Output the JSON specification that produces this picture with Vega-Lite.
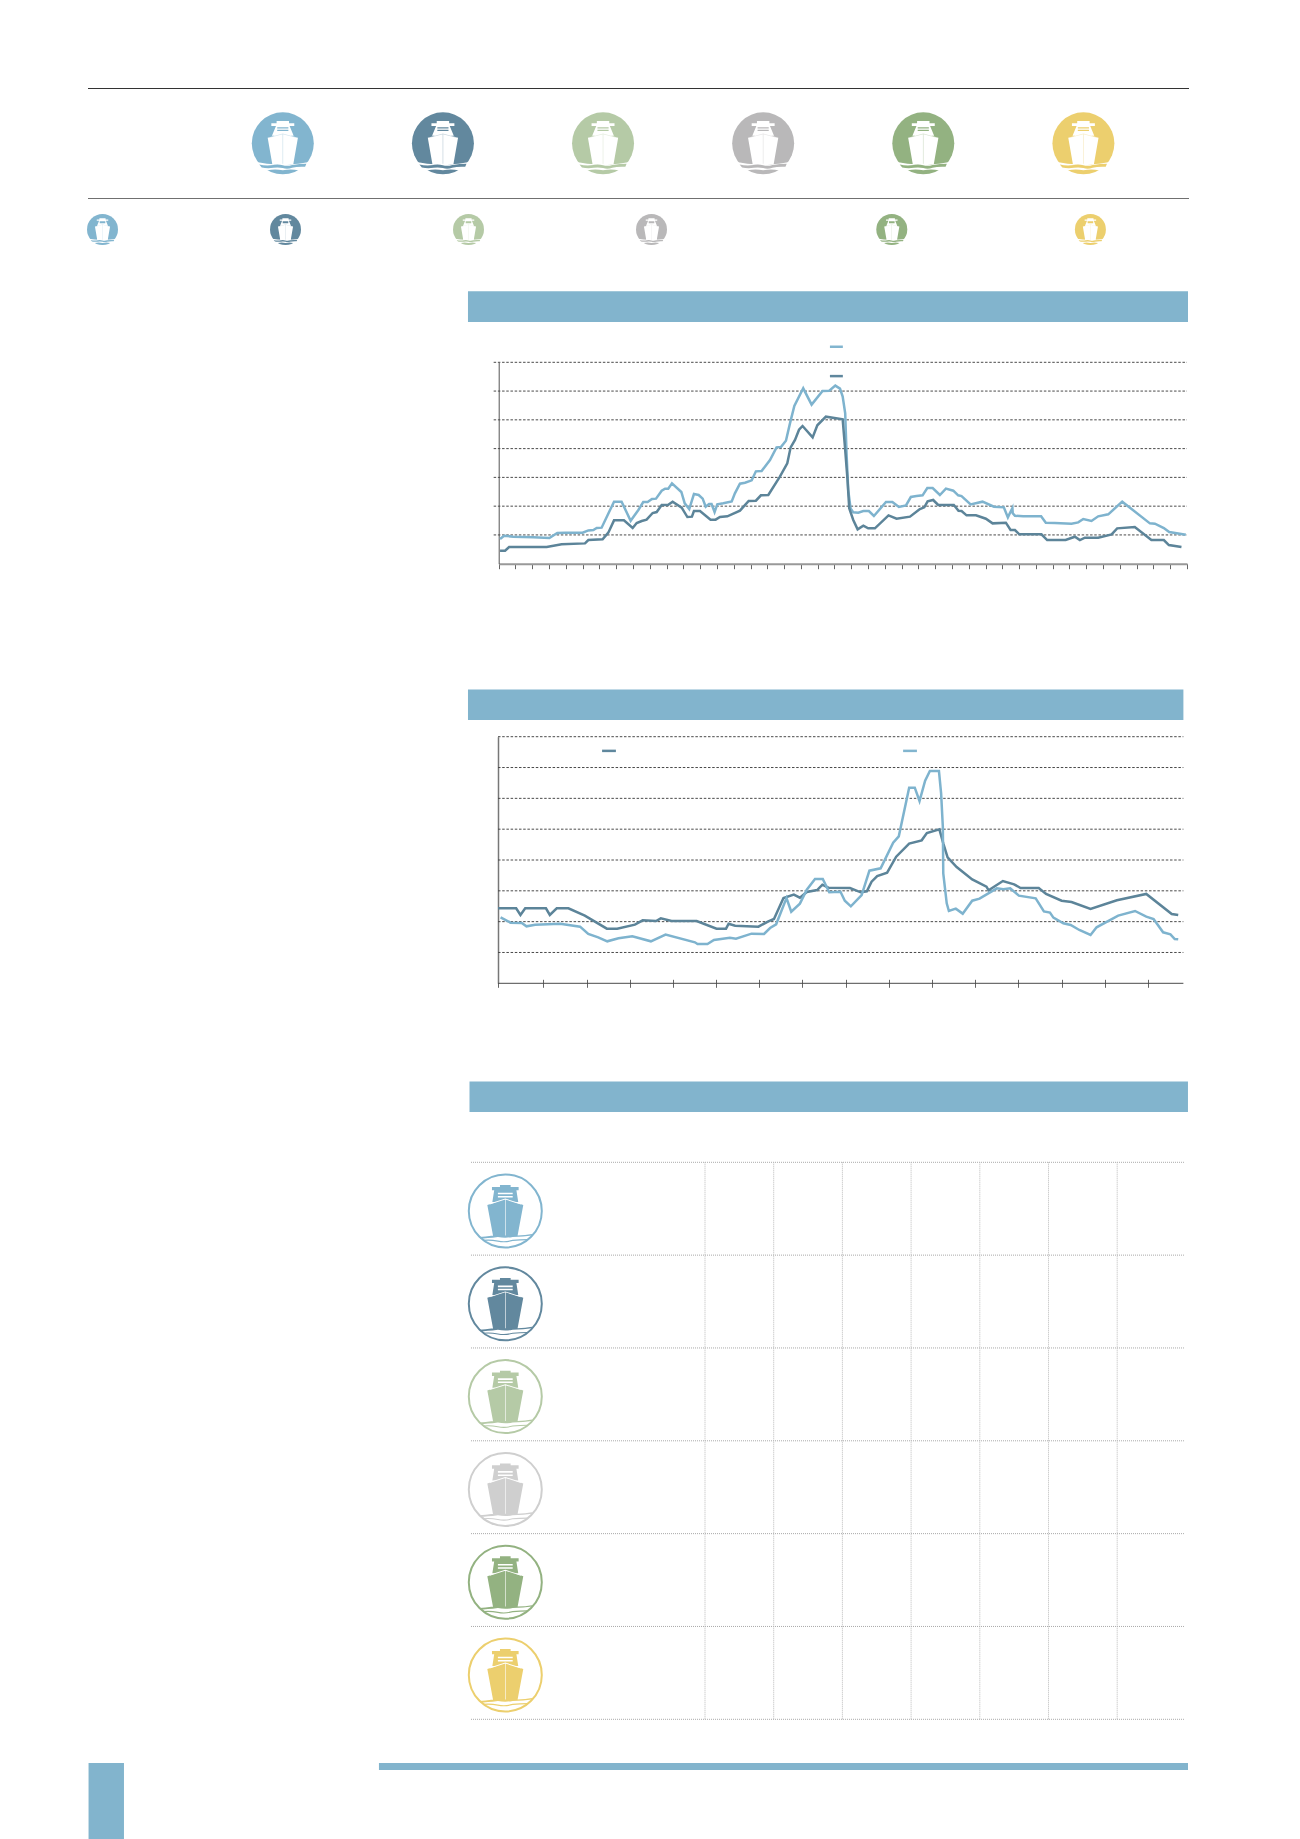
{
"$schema":"https://vega.github.io/schema/vega-lite/v6.json",
"width":1300,"height":1839,"padding":0,
"autosize":{"type":"fit","contains":"padding"},
"background":"white",
"config":{"view":{"stroke":null}},
"data":{"values":[{}]},
"datasets":{
"vessels":[{"vessel":"Vessel 1","idx":0},{"vessel":"Vessel 2","idx":1},{"vessel":"Vessel 3","idx":2},{"vessel":"Vessel 4","idx":3},{"vessel":"Vessel 5","idx":4},{"vessel":"Vessel 6","idx":5}],
"tableRows":[{"line":0},{"line":1},{"line":2},{"line":3},{"line":4},{"line":5},{"line":6}],
"tableCols":[{"col":0},{"col":1},{"col":2},{"col":3},{"col":4},{"col":5},{"col":6}],
"grid1":[{"v":50},{"v":100},{"v":150},{"v":200},{"v":250},{"v":300},{"v":350}],
"grid2":[{"v":50},{"v":100},{"v":150},{"v":200},{"v":250},{"v":300},{"v":350},{"v":400}],
"chart1":[
{"s":"Series A","t":0.08,"v":42.9},{"s":"Series A","t":0.32,"v":48.7},{"s":"Series A","t":0.87,"v":46.9},{"s":"Series A","t":1.47,"v":46.4},{"s":"Series A","t":2.06,"v":45.8},{"s":"Series A","t":3.02,"v":44.6},{"s":"Series A","t":3.49,"v":53.3},{"s":"Series A","t":3.97,"v":53.9},{"s":"Series A","t":5.0,"v":53.9},{"s":"Series A","t":5.34,"v":57.9},{"s":"Series A","t":5.64,"v":58.5},{"s":"Series A","t":5.84,"v":62},{"s":"Series A","t":6.13,"v":62.6},{"s":"Series A","t":6.87,"v":107.8},{"s":"Series A","t":7.32,"v":107.8},{"s":"Series A","t":7.86,"v":74.7},{"s":"Series A","t":8.32,"v":93.3},{"s":"Series A","t":8.61,"v":107.2},{"s":"Series A","t":8.87,"v":107.2},{"s":"Series A","t":9.13,"v":112.4},{"s":"Series A","t":9.37,"v":113},{"s":"Series A","t":9.71,"v":126.9},{"s":"Series A","t":9.91,"v":130.4},{"s":"Series A","t":10.1,"v":130.4},{"s":"Series A","t":10.32,"v":139.6},{"s":"Series A","t":10.88,"v":124.6},{"s":"Series A","t":11.08,"v":104.9},{"s":"Series A","t":11.35,"v":95},{"s":"Series A","t":11.63,"v":121.1},{"s":"Series A","t":11.91,"v":119.4},{"s":"Series A","t":12.15,"v":113},{"s":"Series A","t":12.33,"v":99.1},{"s":"Series A","t":12.53,"v":103.7},{"s":"Series A","t":12.68,"v":103.7},{"s":"Series A","t":12.86,"v":89.8},{"s":"Series A","t":13.02,"v":103.1},{"s":"Series A","t":13.38,"v":104.9},{"s":"Series A","t":13.88,"v":108.3},{"s":"Series A","t":14.07,"v":122.3},{"s":"Series A","t":14.37,"v":139},{"s":"Series A","t":14.67,"v":140.8},{"s":"Series A","t":15.07,"v":144.9},{"s":"Series A","t":15.32,"v":160.5},{"s":"Series A","t":15.66,"v":161.1},{"s":"Series A","t":16.16,"v":180.2},{"s":"Series A","t":16.55,"v":202.2},{"s":"Series A","t":16.81,"v":202.8},{"s":"Series A","t":17.11,"v":213.8},{"s":"Series A","t":17.35,"v":243.9},{"s":"Series A","t":17.61,"v":274.1},{"s":"Series A","t":18.14,"v":304.8},{"s":"Series A","t":18.64,"v":276.4},{"s":"Series A","t":19.29,"v":300.1},{"s":"Series A","t":19.69,"v":300.7},{"s":"Series A","t":20.05,"v":309.4},{"s":"Series A","t":20.33,"v":304.2},{"s":"Series A","t":20.49,"v":290.3},{"s":"Series A","t":20.64,"v":261.3},{"s":"Series A","t":20.72,"v":191.8},{"s":"Series A","t":20.82,"v":128},{"s":"Series A","t":20.96,"v":96.2},{"s":"Series A","t":21.12,"v":89.2},{"s":"Series A","t":21.42,"v":88.6},{"s":"Series A","t":21.72,"v":91.5},{"s":"Series A","t":22.05,"v":91.5},{"s":"Series A","t":22.35,"v":82.9},{"s":"Series A","t":23.07,"v":107.2},{"s":"Series A","t":23.45,"v":107.2},{"s":"Series A","t":23.84,"v":98.5},{"s":"Series A","t":24.26,"v":101.4},{"s":"Series A","t":24.55,"v":115.9},{"s":"Series A","t":24.89,"v":117.6},{"s":"Series A","t":25.25,"v":118.8},{"s":"Series A","t":25.53,"v":131.5},{"s":"Series A","t":25.85,"v":131.5},{"s":"Series A","t":26.28,"v":119.4},{"s":"Series A","t":26.64,"v":130.4},{"s":"Series A","t":27.08,"v":126.9},{"s":"Series A","t":27.37,"v":118.8},{"s":"Series A","t":27.57,"v":117.6},{"s":"Series A","t":28.11,"v":103.1},{"s":"Series A","t":28.82,"v":107.8},{"s":"Series A","t":29.5,"v":99.1},{"s":"Series A","t":30.09,"v":97.9},{"s":"Series A","t":30.33,"v":80.5},{"s":"Series A","t":30.6,"v":96.8},{"s":"Series A","t":30.62,"v":87.5},{"s":"Series A","t":30.75,"v":83.4},{"s":"Series A","t":31.24,"v":82.3},{"s":"Series A","t":32.31,"v":82.3},{"s":"Series A","t":32.59,"v":71.3},{"s":"Series A","t":33.13,"v":70.7},{"s":"Series A","t":34.12,"v":69.5},{"s":"Series A","t":34.52,"v":71.8},{"s":"Series A","t":34.82,"v":77.6},{"s":"Series A","t":35.31,"v":74.2},{"s":"Series A","t":35.71,"v":82.3},{"s":"Series A","t":36.31,"v":85.8},{"s":"Series A","t":37.14,"v":107.8},{"s":"Series A","t":38.79,"v":70.1},{"s":"Series A","t":39.09,"v":69.5},{"s":"Series A","t":39.62,"v":62},{"s":"Series A","t":39.94,"v":55},{"s":"Series A","t":40.57,"v":52.1},{"s":"Series A","t":40.93,"v":50.4},
{"s":"Series B","t":0.08,"v":22.6},{"s":"Series B","t":0.38,"v":22.6},{"s":"Series B","t":0.62,"v":29},{"s":"Series B","t":2.86,"v":29},{"s":"Series B","t":3.75,"v":33.6},{"s":"Series B","t":5.14,"v":35.3},{"s":"Series B","t":5.34,"v":41.1},{"s":"Series B","t":6.19,"v":42.3},{"s":"Series B","t":6.53,"v":53.9},{"s":"Series B","t":6.87,"v":75.3},{"s":"Series B","t":7.46,"v":75.3},{"s":"Series B","t":7.98,"v":62},{"s":"Series B","t":8.22,"v":70.7},{"s":"Series B","t":8.52,"v":74.2},{"s":"Series B","t":8.81,"v":76.5},{"s":"Series B","t":9.17,"v":88.1},{"s":"Series B","t":9.41,"v":89.8},{"s":"Series B","t":9.71,"v":102},{"s":"Series B","t":10.1,"v":102.6},{"s":"Series B","t":10.36,"v":107.8},{"s":"Series B","t":10.9,"v":97.3},{"s":"Series B","t":11.24,"v":81.1},{"s":"Series B","t":11.51,"v":81.7},{"s":"Series B","t":11.63,"v":91.5},{"s":"Series B","t":11.99,"v":91.5},{"s":"Series B","t":12.62,"v":76.5},{"s":"Series B","t":12.92,"v":76.5},{"s":"Series B","t":13.18,"v":81.1},{"s":"Series B","t":13.62,"v":82.3},{"s":"Series B","t":14.37,"v":92.1},{"s":"Series B","t":14.89,"v":108.9},{"s":"Series B","t":15.32,"v":109.5},{"s":"Series B","t":15.62,"v":118.8},{"s":"Series B","t":16.06,"v":119.4},{"s":"Series B","t":16.75,"v":151.2},{"s":"Series B","t":17.19,"v":174.4},{"s":"Series B","t":17.39,"v":202.2},{"s":"Series B","t":17.65,"v":215},{"s":"Series B","t":17.89,"v":232.9},{"s":"Series B","t":18.1,"v":239.3},{"s":"Series B","t":18.7,"v":219.6},{"s":"Series B","t":18.98,"v":240.5},{"s":"Series B","t":19.49,"v":255.5},{"s":"Series B","t":20.49,"v":250.9},{"s":"Series B","t":20.64,"v":197.6},{"s":"Series B","t":20.78,"v":145.4},{"s":"Series B","t":20.88,"v":96.2},{"s":"Series B","t":21.12,"v":75.9},{"s":"Series B","t":21.38,"v":59.7},{"s":"Series B","t":21.72,"v":66.1},{"s":"Series B","t":22.01,"v":61.4},{"s":"Series B","t":22.41,"v":61.4},{"s":"Series B","t":23.22,"v":84},{"s":"Series B","t":23.7,"v":78.2},{"s":"Series B","t":24.5,"v":81.7},{"s":"Series B","t":25.09,"v":95},{"s":"Series B","t":25.35,"v":97.9},{"s":"Series B","t":25.55,"v":108.3},{"s":"Series B","t":25.88,"v":110.7},{"s":"Series B","t":26.18,"v":102},{"s":"Series B","t":27.11,"v":102},{"s":"Series B","t":27.39,"v":92.1},{"s":"Series B","t":27.57,"v":91.5},{"s":"Series B","t":27.87,"v":84},{"s":"Series B","t":28.43,"v":84},{"s":"Series B","t":29.02,"v":78.2},{"s":"Series B","t":29.42,"v":70.1},{"s":"Series B","t":30.21,"v":71.3},{"s":"Series B","t":30.49,"v":58.5},{"s":"Series B","t":30.75,"v":58.5},{"s":"Series B","t":31.01,"v":51},{"s":"Series B","t":32.33,"v":51},{"s":"Series B","t":32.67,"v":41.1},{"s":"Series B","t":33.77,"v":41.1},{"s":"Series B","t":34.32,"v":46.9},{"s":"Series B","t":34.62,"v":41.1},{"s":"Series B","t":34.92,"v":45.2},{"s":"Series B","t":35.71,"v":45.2},{"s":"Series B","t":36.51,"v":51},{"s":"Series B","t":36.84,"v":61.4},{"s":"Series B","t":37.89,"v":63.7},{"s":"Series B","t":38.88,"v":41.1},{"s":"Series B","t":39.62,"v":41.1},{"s":"Series B","t":39.92,"v":32.4},{"s":"Series B","t":40.67,"v":29}
],
"chart2":[
{"s":"Series B","t":0,"v":121.6},{"s":"Series B","t":0.42,"v":121.6},{"s":"Series B","t":0.52,"v":110.8},{"s":"Series B","t":0.63,"v":121.6},{"s":"Series B","t":1.11,"v":121.6},{"s":"Series B","t":1.2,"v":110.8},{"s":"Series B","t":1.36,"v":121.6},{"s":"Series B","t":1.63,"v":121.6},{"s":"Series B","t":2.01,"v":109.7},{"s":"Series B","t":2.52,"v":88.6},{"s":"Series B","t":2.76,"v":88.6},{"s":"Series B","t":3.17,"v":95.1},{"s":"Series B","t":3.35,"v":102.2},{"s":"Series B","t":3.66,"v":101.1},{"s":"Series B","t":3.77,"v":105.4},{"s":"Series B","t":4.02,"v":101.1},{"s":"Series B","t":4.6,"v":101.1},{"s":"Series B","t":5.06,"v":88.6},{"s":"Series B","t":5.28,"v":88.6},{"s":"Series B","t":5.34,"v":96.7},{"s":"Series B","t":5.49,"v":93.5},{"s":"Series B","t":6.03,"v":91.9},{"s":"Series B","t":6.26,"v":100.5},{"s":"Series B","t":6.39,"v":104.3},{"s":"Series B","t":6.61,"v":138.4},{"s":"Series B","t":6.85,"v":143.8},{"s":"Series B","t":6.99,"v":138.9},{"s":"Series B","t":7.15,"v":148.1},{"s":"Series B","t":7.39,"v":151.3},{"s":"Series B","t":7.51,"v":160},{"s":"Series B","t":7.65,"v":155.1},{"s":"Series B","t":8.15,"v":154.6},{"s":"Series B","t":8.4,"v":147.6},{"s":"Series B","t":8.54,"v":149.2},{"s":"Series B","t":8.65,"v":164.9},{"s":"Series B","t":8.78,"v":174},{"s":"Series B","t":9.01,"v":179.4},{"s":"Series B","t":9.22,"v":205.4},{"s":"Series B","t":9.52,"v":226.5},{"s":"Series B","t":9.81,"v":231.9},{"s":"Series B","t":9.93,"v":243.8},{"s":"Series B","t":10.22,"v":249.7},{"s":"Series B","t":10.31,"v":227},{"s":"Series B","t":10.41,"v":204.3},{"s":"Series B","t":10.62,"v":188.6},{"s":"Series B","t":10.98,"v":168.6},{"s":"Series B","t":11.31,"v":156.7},{"s":"Series B","t":11.36,"v":150.8},{"s":"Series B","t":11.69,"v":165.9},{"s":"Series B","t":11.95,"v":160.5},{"s":"Series B","t":12.1,"v":154.6},{"s":"Series B","t":12.52,"v":154.6},{"s":"Series B","t":12.69,"v":144.9},{"s":"Series B","t":13.05,"v":134},{"s":"Series B","t":13.28,"v":131.9},{"s":"Series B","t":13.72,"v":120.5},{"s":"Series B","t":14.33,"v":134.6},{"s":"Series B","t":15.01,"v":144.9},{"s":"Series B","t":15.6,"v":112.4},{"s":"Series B","t":15.75,"v":110.8},
{"s":"Series A","t":0.06,"v":107},{"s":"Series A","t":0.29,"v":98.4},{"s":"Series A","t":0.55,"v":97.8},{"s":"Series A","t":0.66,"v":92.4},{"s":"Series A","t":0.86,"v":95.1},{"s":"Series A","t":1.44,"v":96.7},{"s":"Series A","t":1.9,"v":91.9},{"s":"Series A","t":2.09,"v":80},{"s":"Series A","t":2.32,"v":74.6},{"s":"Series A","t":2.53,"v":68.1},{"s":"Series A","t":2.79,"v":73},{"s":"Series A","t":3.11,"v":76.2},{"s":"Series A","t":3.54,"v":68.1},{"s":"Series A","t":3.88,"v":78.9},{"s":"Series A","t":4.56,"v":66.5},{"s":"Series A","t":4.62,"v":63.8},{"s":"Series A","t":4.85,"v":63.8},{"s":"Series A","t":5.0,"v":70.3},{"s":"Series A","t":5.37,"v":74},{"s":"Series A","t":5.51,"v":72.4},{"s":"Series A","t":5.87,"v":80.5},{"s":"Series A","t":6.16,"v":80},{"s":"Series A","t":6.3,"v":89.7},{"s":"Series A","t":6.44,"v":95.7},{"s":"Series A","t":6.68,"v":138.4},{"s":"Series A","t":6.79,"v":116.2},{"s":"Series A","t":6.99,"v":129.2},{"s":"Series A","t":7.15,"v":151.9},{"s":"Series A","t":7.34,"v":169.2},{"s":"Series A","t":7.52,"v":169.2},{"s":"Series A","t":7.67,"v":147.6},{"s":"Series A","t":7.93,"v":148.6},{"s":"Series A","t":8.03,"v":134},{"s":"Series A","t":8.17,"v":124.9},{"s":"Series A","t":8.42,"v":143.2},{"s":"Series A","t":8.6,"v":182.7},{"s":"Series A","t":8.86,"v":186.5},{"s":"Series A","t":9.15,"v":228.1},{"s":"Series A","t":9.28,"v":238.4},{"s":"Series A","t":9.52,"v":317.3},{"s":"Series A","t":9.65,"v":317.3},{"s":"Series A","t":9.76,"v":295.7},{"s":"Series A","t":9.89,"v":328.6},{"s":"Series A","t":10.0,"v":344.3},{"s":"Series A","t":10.21,"v":344.3},{"s":"Series A","t":10.26,"v":308.1},{"s":"Series A","t":10.3,"v":254},{"s":"Series A","t":10.31,"v":178.4},{"s":"Series A","t":10.39,"v":129.7},{"s":"Series A","t":10.44,"v":117.3},{"s":"Series A","t":10.6,"v":121.1},{"s":"Series A","t":10.76,"v":113},{"s":"Series A","t":10.98,"v":134},{"s":"Series A","t":11.15,"v":137.3},{"s":"Series A","t":11.55,"v":154},{"s":"Series A","t":11.7,"v":152.4},{"s":"Series A","t":11.86,"v":154},{"s":"Series A","t":12.06,"v":142.2},{"s":"Series A","t":12.45,"v":137.8},{"s":"Series A","t":12.64,"v":116.7},{"s":"Series A","t":12.78,"v":114.6},{"s":"Series A","t":12.86,"v":106.5},{"s":"Series A","t":13.09,"v":97.3},{"s":"Series A","t":13.26,"v":94.6},{"s":"Series A","t":13.46,"v":86.5},{"s":"Series A","t":13.72,"v":78.4},{"s":"Series A","t":13.86,"v":90.8},{"s":"Series A","t":14.36,"v":109.7},{"s":"Series A","t":14.75,"v":117.3},{"s":"Series A","t":15.01,"v":108.1},{"s":"Series A","t":15.18,"v":104.3},{"s":"Series A","t":15.4,"v":82.7},{"s":"Series A","t":15.57,"v":79.5},{"s":"Series A","t":15.67,"v":71.9},{"s":"Series A","t":15.75,"v":71.3}
]
},
"resolve":{"scale":{"x":"independent","y":"independent","color":"independent"}},
"layer":[
{"data":{"name":"grid1"},"mark":{"type":"rule","color":"#4a4a4a","strokeWidth":1,"strokeDash":[2.5,1.7]},"encoding":{"x":{"datum":-0.3,"type":"quantitative","scale":{"domain":[0,41],"range":[498.7,1187],"zero":false,"nice":false},"axis":{"orient":"bottom","offset":-1275.3,"labels":false,"title":null,"grid":false,"values":[0,1,2,3,4,5,6,7,8,9,10,11,12,13,14,15,16,17,18,19,20,21,22,23,24,25,26,27,28,29,30,31,32,33,34,35,36,37,38,39,40,41],"domainColor":"#999999","domainWidth":2,"tickColor":"#666666","tickSize":5,"tickWidth":1}},"x2":{"datum":41},"y":{"field":"v","type":"quantitative","scale":{"domain":[0,350],"range":[563.7,362.3],"zero":false,"nice":false},"axis":{"orient":"left","offset":-498.7,"labels":false,"title":null,"grid":false,"ticks":false,"values":[0,350],"domainColor":"#555555","domainWidth":1}}}},
{"data":{"name":"grid2"},"mark":{"type":"rule","color":"#4a4a4a","strokeWidth":1,"strokeDash":[2.5,1.7]},"encoding":{"x":{"datum":0,"type":"quantitative","scale":{"domain":[0,15.87],"range":[498,1183.4],"zero":false,"nice":false},"axis":{"orient":"bottom","offset":-859.7,"labels":false,"title":null,"grid":false,"domain":false,"values":[0,1.05,2.05,3.05,4.05,5.05,6.05,7.05,8.05,9.05,10.05,11.05,12.05,13.05,14.05,15.05],"tickColor":"#666666","tickSize":8,"tickWidth":1}},"x2":{"datum":15.87},"y":{"field":"v","type":"quantitative","scale":{"domain":[0,400],"range":[983.3,736.7],"zero":false,"nice":false},"axis":{"orient":"left","offset":-498,"labels":false,"title":null,"grid":false,"ticks":false,"values":[0,400],"domainColor":"#777777","domainWidth":1.5}}}},
{"layer":[
{"mark":{"type":"rule","color":"#333333","strokeWidth":1},"encoding":{"x":{"datum":-1.22,"type":"quantitative","axis":null,"scale":{"domain":[-1.22,5.65],"range":[88,1189],"zero":false,"nice":false}},"x2":{"datum":5.65},"y":{"datum":0,"type":"quantitative","axis":null,"scale":{"domain":[0,1],"range":[88.5,198.5],"zero":false,"nice":false}}}},
{"mark":{"type":"rule","color":"#707070","strokeWidth":1},"encoding":{"x":{"datum":-1.22,"type":"quantitative","axis":null},"x2":{"datum":5.65},"y":{"datum":1,"type":"quantitative","axis":null}}}
]},
{"data":{"name":"vessels"},
"encoding":{"x":{"field":"idx","type":"quantitative","axis":null,"scale":{"domain":[0,5],"range":[282.8,1083.4],"zero":false,"nice":false}},"y":{"datum":0.5,"type":"quantitative","axis":null,"scale":{"domain":[0,1],"range":[88.3,198.3],"zero":false,"nice":false}},"color":{"field":"vessel","type":"nominal","legend":null,"scale":{"domain":["Vessel 1","Vessel 2","Vessel 3","Vessel 4","Vessel 5","Vessel 6"],"range":["#82B5CF","#62889E","#B5CAA6","#B9B8B9","#93B281","#ECCF6E"]}}},
"layer":[
{"mark":{"type":"point","shape":"circle","filled":true,"opacity":1,"size":3844,"strokeWidth":0}},
{"mark":{"type":"point","shape":"M-0.488,-0.183 L0,-0.32 L0.488,-0.183 L0.34,0.667 L-0.34,0.667Z M-0.35,-0.24 L-0.22,-0.56 L-0.37,-0.56 L-0.37,-0.645 L-0.2,-0.645 L-0.2,-0.72 L0.2,-0.72 L0.2,-0.645 L0.37,-0.645 L0.37,-0.56 L0.22,-0.56 L0.35,-0.24Z M-1.05,0.6 L-0.75,0.62 Q-0.4,0.7 0,0.66 Q0.4,0.7 0.75,0.62 L1.05,0.6 L1.05,0.9 L0.5,0.87 Q0.25,0.82 0,0.87 Q-0.25,0.82 -0.5,0.87 L-1.05,0.9Z","filled":true,"opacity":1,"size":3844,"strokeWidth":0,"color":"white"},"encoding":{"color":{"value":"white"}}},
{"mark":{"type":"point","shape":"M-0.012,-0.31 L0.012,-0.31 L0.012,0.66 L-0.012,0.66Z M-0.46,-0.19 L0,-0.32 L0.46,-0.19 L0.46,-0.17 L0,-0.295 L-0.46,-0.17Z","filled":true,"opacity":0.35,"size":3844,"strokeWidth":0}},
{"mark":{"type":"point","shape":"M-0.18,-0.52 L0.18,-0.52 L0.18,-0.48 L-0.18,-0.48Z M-0.18,-0.44 L0.18,-0.44 L0.18,-0.4 L-0.18,-0.4Z M-0.76,0.68 Q-0.55,0.74 -0.3,0.7 Q-0.15,0.67 0,0.71 Q0.15,0.75 0.3,0.7 Q0.55,0.66 0.76,0.66 L0.72,0.76 Q0.45,0.75 0.3,0.79 Q0.15,0.84 0,0.8 Q-0.15,0.76 -0.3,0.79 Q-0.5,0.82 -0.68,0.78Z","filled":true,"opacity":1,"size":3844,"strokeWidth":0}}
]},
{"data":{"name":"vessels"},
"encoding":{"x":{"field":"idx","type":"quantitative","axis":null,"scale":{"domain":[0,3,4,5],"range":[102.5,651.5,891.8,1090.4],"zero":false,"nice":false}},"y":{"datum":1.283,"type":"quantitative","axis":null,"scale":{"domain":[0,1],"range":[88.3,198.3],"zero":false,"nice":false}},"color":{"field":"vessel","type":"nominal","legend":null,"scale":{"domain":["Vessel 1","Vessel 2","Vessel 3","Vessel 4","Vessel 5","Vessel 6"],"range":["#82B5CF","#62889E","#B5CAA6","#B9B8B9","#93B281","#ECCF6E"]}}},
"layer":[
{"mark":{"type":"point","shape":"circle","filled":true,"opacity":1,"size":961,"strokeWidth":0}},
{"mark":{"type":"point","shape":"M-0.488,-0.183 L0,-0.32 L0.488,-0.183 L0.34,0.667 L-0.34,0.667Z M-0.35,-0.24 L-0.22,-0.56 L-0.37,-0.56 L-0.37,-0.645 L-0.2,-0.645 L-0.2,-0.72 L0.2,-0.72 L0.2,-0.645 L0.37,-0.645 L0.37,-0.56 L0.22,-0.56 L0.35,-0.24Z M-1.05,0.6 L-0.75,0.62 Q-0.4,0.7 0,0.66 Q0.4,0.7 0.75,0.62 L1.05,0.6 L1.05,0.9 L0.5,0.87 Q0.25,0.82 0,0.87 Q-0.25,0.82 -0.5,0.87 L-1.05,0.9Z","filled":true,"opacity":1,"size":961,"strokeWidth":0,"color":"white"},"encoding":{"color":{"value":"white"}}},
{"mark":{"type":"point","shape":"M-0.012,-0.31 L0.012,-0.31 L0.012,0.66 L-0.012,0.66Z M-0.46,-0.19 L0,-0.32 L0.46,-0.19 L0.46,-0.17 L0,-0.295 L-0.46,-0.17Z","filled":true,"opacity":0.35,"size":961,"strokeWidth":0}},
{"mark":{"type":"point","shape":"M-0.18,-0.52 L0.18,-0.52 L0.18,-0.4 L-0.18,-0.4Z M-0.76,0.68 Q-0.55,0.74 -0.3,0.7 Q-0.15,0.67 0,0.71 Q0.15,0.75 0.3,0.7 Q0.55,0.66 0.76,0.66 L0.72,0.76 Q0.45,0.75 0.3,0.79 Q0.15,0.84 0,0.8 Q-0.15,0.76 -0.3,0.79 Q-0.5,0.82 -0.68,0.78Z","filled":true,"opacity":1,"size":961,"strokeWidth":0}}
]},
{"layer":[
{"mark":{"type":"rect","color":"#82B4CD"},"encoding":{"x":{"datum":-1.83,"type":"quantitative","axis":null,"scale":{"domain":[0,41],"range":[498.7,1187],"zero":false,"nice":false}},"x2":{"datum":41.06},"y":{"datum":473.4,"type":"quantitative","axis":null,"scale":{"domain":[0,350],"range":[563.7,362.3],"zero":false,"nice":false}},"y2":{"datum":420.1}}},
{"mark":{"type":"rule","color":"#82B5CF","strokeWidth":2.5},"encoding":{"x":{"datum":19.73,"type":"quantitative","axis":null},"x2":{"datum":20.5},"y":{"datum":377,"type":"quantitative","axis":null}}},
{"mark":{"type":"rule","color":"#5F879D","strokeWidth":2.5},"encoding":{"x":{"datum":19.73,"type":"quantitative","axis":null},"x2":{"datum":20.5},"y":{"datum":326,"type":"quantitative","axis":null}}},
{"data":{"name":"chart1"},"mark":{"type":"line","strokeWidth":2.5,"interpolate":"linear"},"encoding":{"x":{"field":"t","type":"quantitative","axis":null},"y":{"field":"v","type":"quantitative","axis":null},"color":{"field":"s","type":"nominal","legend":null,"scale":{"domain":["Series A","Series B"],"range":["#7EB3CE","#5C8499"]}}}}
]},
{"layer":[
{"mark":{"type":"rect","color":"#82B4CD"},"encoding":{"x":{"datum":-0.695,"type":"quantitative","axis":null,"scale":{"domain":[0,15.87],"range":[498,1183.4],"zero":false,"nice":false}},"x2":{"datum":15.87},"y":{"datum":476.5,"type":"quantitative","axis":null,"scale":{"domain":[0,400],"range":[983.3,736.7],"zero":false,"nice":false}},"y2":{"datum":427}}},
{"mark":{"type":"rule","color":"#4a4a4a","strokeWidth":1},"encoding":{"x":{"datum":0,"type":"quantitative","axis":null},"x2":{"datum":15.87},"y":{"datum":0,"type":"quantitative","axis":null}}},
{"mark":{"type":"rule","color":"#5F879D","strokeWidth":2.5},"encoding":{"x":{"datum":2.41,"type":"quantitative","axis":null},"x2":{"datum":2.73},"y":{"datum":377,"type":"quantitative","axis":null}}},
{"mark":{"type":"rule","color":"#82B5CF","strokeWidth":2.5},"encoding":{"x":{"datum":9.38,"type":"quantitative","axis":null},"x2":{"datum":9.7},"y":{"datum":377,"type":"quantitative","axis":null}}},
{"data":{"name":"chart2"},"mark":{"type":"line","strokeWidth":2.5,"interpolate":"linear"},"encoding":{"x":{"field":"t","type":"quantitative","axis":null},"y":{"field":"v","type":"quantitative","axis":null},"color":{"field":"s","type":"nominal","legend":null,"scale":{"domain":["Series A","Series B"],"range":["#7EB3CE","#5C8499"]}}}}
]},
{"layer":[
{"mark":{"type":"rect","color":"#82B4CD"},"encoding":{"x":{"datum":-3.428,"type":"quantitative","axis":null,"scale":{"domain":[0,6],"range":[705,1117.2],"zero":false,"nice":false}},"x2":{"datum":7.03},"y":{"datum":-0.87,"type":"quantitative","axis":null,"scale":{"domain":[0,6],"range":[1162.3,1719.3],"zero":false,"nice":false}},"y2":{"datum":-0.542}}},
{"data":{"name":"tableRows"},"mark":{"type":"rule","color":"#aaaaaa","strokeWidth":1,"strokeDash":[1,1]},"encoding":{"x":{"datum":-3.406,"type":"quantitative","axis":null},"x2":{"datum":6.972},"y":{"field":"line","type":"quantitative","axis":null}}},
{"data":{"name":"tableCols"},"mark":{"type":"rule","color":"#bbbbbb","strokeWidth":1,"strokeDash":[1,1]},"encoding":{"x":{"field":"col","type":"quantitative","axis":null},"y":{"datum":0,"type":"quantitative","axis":null},"y2":{"datum":6}}}
]},
{"data":{"name":"vessels"},
"encoding":{"x":{"datum":0,"type":"quantitative","axis":null,"scale":{"domain":[0,1],"range":[505.3,506.3],"zero":false,"nice":false}},"y":{"field":"idx","type":"quantitative","axis":null,"scale":{"domain":[0,5],"range":[1211,1675],"zero":false,"nice":false}},"color":{"field":"vessel","type":"nominal","legend":null,"scale":{"domain":["Vessel 1","Vessel 2","Vessel 3","Vessel 4","Vessel 5","Vessel 6"],"range":["#82B5CF","#62889E","#B5CAA6","#CFCFCF","#93B281","#ECCF6E"]}}},
"layer":[
{"mark":{"type":"point","shape":"circle","filled":false,"opacity":1,"size":5329,"strokeWidth":2}},
{"mark":{"type":"point","shape":"M-0.486,-0.162 L0,-0.324 L0.486,-0.162 L0.33,0.676 L-0.33,0.676Z M-0.35,-0.24 L-0.3,-0.56 L-0.36,-0.56 L-0.36,-0.65 L-0.144,-0.65 L-0.144,-0.7 L0.144,-0.7 L0.144,-0.65 L0.36,-0.65 L0.36,-0.56 L0.3,-0.56 L0.35,-0.24Z M-0.7,0.7 Q-0.55,0.7 -0.33,0.66 L0.33,0.66 Q0.55,0.66 0.72,0.62 L0.72,0.66 Q0.5,0.7 0.2,0.7 Q0,0.74 -0.2,0.7 Q-0.5,0.74 -0.68,0.74Z M-0.6,0.78 Q-0.4,0.76 -0.2,0.8 Q0,0.84 0.2,0.78 Q0.4,0.76 0.6,0.76 L0.6,0.79 Q0.4,0.79 0.2,0.81 Q0,0.87 -0.2,0.83 Q-0.4,0.79 -0.6,0.81Z","filled":true,"opacity":1,"size":5476,"strokeWidth":0}},
{"mark":{"type":"point","shape":"M-0.008,-0.31 L0.008,-0.31 L0.008,0.66 L-0.008,0.66Z M-0.42,-0.2 L0,-0.335 L0.42,-0.2 L0.42,-0.175 L0,-0.31 L-0.42,-0.175Z M-0.2,-0.495 L0.2,-0.495 L0.2,-0.45 L-0.2,-0.45Z M-0.2,-0.405 L0.2,-0.405 L0.2,-0.365 L-0.2,-0.365Z","filled":true,"opacity":1,"size":5476,"strokeWidth":0,"color":"white"},"encoding":{"color":{"value":"white"}}}
]},
{"layer":[
{"mark":{"type":"rect","color":"#82B4CD"},"encoding":{"x":{"datum":0.0005,"type":"quantitative","axis":null,"scale":{"domain":[0,1],"range":[88,1188],"zero":false,"nice":false}},"x2":{"datum":0.0327},"y":{"datum":0,"type":"quantitative","axis":null,"scale":{"domain":[0,1],"range":[1763,1839],"zero":false,"nice":false}},"y2":{"datum":1}}},
{"mark":{"type":"rect","color":"#82B4CD"},"encoding":{"x":{"datum":0.2645,"type":"quantitative","axis":null},"x2":{"datum":1},"y":{"datum":0,"type":"quantitative","axis":null},"y2":{"datum":0.092}}}
]}
]
}
